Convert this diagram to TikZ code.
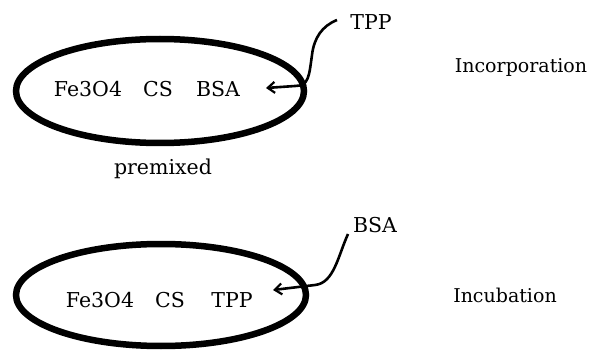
\documentclass[tikz,border=0pt]{standalone}
\usepackage{fontspec}
\setmainfont{DejaVu Serif}
\usetikzlibrary{arrows.meta}
\begin{document}
\begin{tikzpicture}[x=1pt,y=-1pt,
  txt/.style={inner sep=0pt,anchor=base,font=\fontsize{20.5}{24}\selectfont},
  side/.style={inner sep=0pt,anchor=base,font=\fontsize{19}{22}\selectfont},
  ring/.style={draw,line width=6.5pt},
  conn/.style={line width=2.6pt,-{Straight Barb[length=7pt,width=11pt,line width=2.2pt]}}]
\useasboundingbox (0,0) rectangle (590,353);
% top group
\draw[ring] (160,91) ellipse [x radius=144, y radius=52];
\node[txt] (fe1) at (88,97) {Fe3O4};
\node[txt] (cs1) at (158,97) {CS};
\node[txt] (bsa1) at (218,97) {BSA};
\node[txt] (tpp1) at (371,30) {TPP};
\node[txt] (pre) at (163,175) {premixed};
\node[side] (inc1) at (521,73) {Incorporation};
\coordinate (s1) at (337,20);
\coordinate (e1) at (266,88);
\draw[conn] (s1) .. controls (322,26) and (314,38) .. (312,55)
  .. controls (309,76) and (309,86) .. (295,86) -- (e1);
% bottom group
\draw[ring] (161,295) ellipse [x radius=145, y radius=51];
\node[txt] (fe2) at (100,307) {Fe3O4};
\node[txt] (cs2) at (170,307) {CS};
\node[txt] (tpp2) at (232,307) {TPP};
\node[txt] (bsa2) at (375,232) {BSA};
\node[side] (inc2) at (505,302) {Incubation};
\coordinate (s2) at (348,234);
\coordinate (e2) at (273,290);
\draw[conn] (s2) .. controls (338,256) and (334,283) .. (315,285) -- (e2);
\end{tikzpicture}
\end{document}
